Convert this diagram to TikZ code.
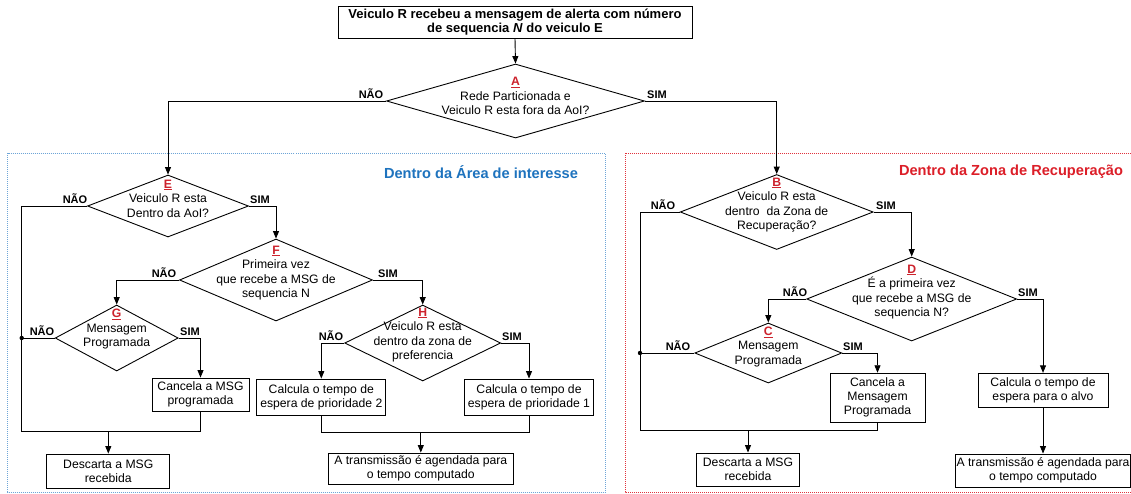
\documentclass[tikz,border=0pt]{standalone}
\usepackage{fontspec}
\setmainfont{Liberation Sans}
\usetikzlibrary{shapes.geometric,arrows.meta}
\definecolor{lblue}{RGB}{110,165,215}
\definecolor{tblue}{RGB}{30,115,190}
\definecolor{lred}{RGB}{225,50,60}
\definecolor{tred}{RGB}{220,30,40}
\definecolor{ltr}{RGB}{205,35,45}
\newcommand{\dletter}[1]{\textcolor{ltr}{\underline{\textbf{#1}}}}
\begin{document}
\begin{tikzpicture}[x=1pt,y=-1pt,line width=0.9pt,
  box/.style={draw,rectangle,inner sep=0pt,align=center,font=\fontsize{12.2}{14}\selectfont},
  dia/.style={draw,diamond,inner sep=0pt},
  dtext/.style={align=center,inner sep=0pt,font=\fontsize{12.2}{14.5}\selectfont},
  yn/.style={font=\bfseries\fontsize{11}{12}\selectfont,inner sep=1pt,anchor=south},
  arr/.style={-{Triangle[length=7.5pt,width=6pt]}},
  zone/.style={line width=0.8pt,dash pattern=on 1pt off 1pt},
  ttl/.style={font=\bfseries\fontsize{14.6}{16}\selectfont,inner sep=0pt}]
\useasboundingbox (0,0) rectangle (1131,493);
\fill[white] (0,0) rectangle (1131,493);
% zones
\draw[zone,lblue] (7.5,153) rectangle (605,492);
\draw[zone,lred] (625,153) rectangle (1140,492);
\node[ttl,text=tblue] (tB) at (481,172) {Dentro da Área de interesse};
\node[ttl,text=tred] (tR) at (1011,172) {Dentro da Zona de Recuperação};
% top box
\node[box,font=\bfseries\fontsize{13}{14.5}\selectfont,minimum width=354pt,minimum height=32pt] (top) at (515,22)
  {Veiculo R recebeu a mensagem de alerta com número\\de sequencia \textit{N} do veiculo E};
% diamonds
\node[dia,minimum width=258pt,minimum height=74pt] (A) at (515.5,101) {};
\node[dtext] (At) at (515.5,96) {\dletter{A}\\Rede Particionada e\\Veiculo R esta fora da AoI?};
\node[dia,minimum width=161pt,minimum height=62pt] (E) at (168,206) {};
\node[dtext] (Et) at (168,198.5) {\dletter{E}\\Veiculo R esta\\Dentro da AoI?};
\node[dia,minimum width=193pt,minimum height=82pt] (F) at (276,280) {};
\node[dtext] (Ft) at (276,273) {\dletter{F}\\Primeira vez\\que recebe a MSG de\\sequencia N};
\node[dia,minimum width=123pt,minimum height=66pt] (G) at (116.7,338) {};
\node[dtext] (Gt) at (116.7,329) {\dletter{G}\\Mensagem\\Programada};
\node[dia,minimum width=156pt,minimum height=76pt] (H) at (422.7,343) {};
\node[dtext] (Ht) at (422.7,335) {\dletter{H}\\Veiculo R esta\\dentro da zona de\\preferencia};
\node[dia,minimum width=193pt,minimum height=75pt] (B) at (776.7,212) {};
\node[dtext] (Bt) at (776.7,205) {\dletter{B}\\Veiculo R esta\\dentro\ \ da Zona de\\Recuperação?};
\node[dia,minimum width=210pt,minimum height=84pt] (D) at (911.7,299) {};
\node[dtext] (Dt) at (911.7,292) {\dletter{D}\\É a primeira vez\\que recebe a MSG de\\sequencia N?};
\node[dia,minimum width=147pt,minimum height=60pt] (C) at (768.3,353) {};
\node[dtext] (Ct) at (768.3,346.7) {\dletter{C}\\Mensagem\\Programada};
% boxes
\node[box,minimum width=97pt,minimum height=33pt] (cG) at (200.5,394.5) {Cancela a MSG\\programada};
\node[box,minimum width=123pt,minimum height=34pt] (dG) at (108.3,471) {Descarta a MSG\\recebida};
\node[box,minimum width=129pt,minimum height=36pt] (p2) at (321.3,397) {Calcula o tempo de\\espera de prioridade 2};
\node[box,minimum width=129pt,minimum height=36pt] (p1) at (529,397) {Calcula o tempo de\\espera de prioridade 1};
\node[box,minimum width=185pt,minimum height=31pt] (trG) at (420.8,468.5) {A transmissão é agendada para\\o tempo computado};
\node[box,minimum width=95pt,minimum height=49pt] (cC) at (877.5,397.7) {Cancela a\\Mensagem\\Programada};
\node[box,minimum width=103pt,minimum height=33pt] (dC) at (748,469.5) {Descarta a MSG\\recebida};
\node[box,minimum width=130pt,minimum height=34pt] (alvo) at (1043,390.3) {Calcula o tempo de\\espera para o alvo};
\node[box,minimum width=175pt,minimum height=33pt] (trC) at (1043,470.5) {A transmissão é agendada para\\o tempo computado};
% junction coordinates
\coordinate (jl) at (21.7,431.7);
\coordinate (dotG) at (21.7,338);
\coordinate (jH) at (420.8,432.7);
\coordinate (jr) at (640,430);
\coordinate (dotC) at (640,353);
% yes/no labels
\node[yn] (An) at (371,100) {NÃO};
\node[yn] (As) at (657,100) {SIM};
\node[yn] (En) at (75,205) {NÃO};
\node[yn] (Es) at (260,205) {SIM};
\node[yn] (Fn) at (164,279) {NÃO};
\node[yn] (Fs) at (388,279) {SIM};
\node[yn] (Gn) at (42,337) {NÃO};
\node[yn] (Gs) at (190,337) {SIM};
\node[yn] (Hn) at (331,342) {NÃO};
\node[yn] (Hs) at (512,342) {SIM};
\node[yn] (Bn) at (663,211) {NÃO};
\node[yn] (Bs) at (886,211) {SIM};
\node[yn] (Dn) at (795,298) {NÃO};
\node[yn] (Ds) at (1028,298) {SIM};
\node[yn] (Cn) at (678,352) {NÃO};
\node[yn] (Cs) at (853,352) {SIM};
% connectors
\draw[arr] (top.south) -- (A.north);
\draw[arr] (A.west) -| (E.north);
\draw[arr] (A.east) -| (B.north);
\draw[arr] (E.east) -| (F.north);
\draw (E.west) -| (jl) -- (cG.south |- jl) -- (cG.south);
\draw[arr] (dG.north |- jl) -- (dG.north);
\draw[arr] (F.west) -| (G.north);
\draw[arr] (F.east) -| (H.north);
\draw (G.west) -- (dotG);
\fill (dotG) circle (2.2pt);
\draw[arr] (G.east) -| (cG.north);
\draw[arr] (H.west) -| (p2.north);
\draw[arr] (H.east) -| (p1.north);
\draw (p2.south) |- (jH) -| (p1.south);
\draw[arr] (jH) -- (trG.north);
\draw (B.west) -| (jr) -- (cC.south |- jr) -- (cC.south);
\draw[arr] (dC.north |- jr) -- (dC.north);
\draw[arr] (B.east) -| (D.north);
\draw[arr] (D.west) -| (C.north);
\draw[arr] (D.east) -| (alvo.north);
\draw (C.west) -- (dotC);
\fill (dotC) circle (2.2pt);
\draw[arr] (C.east) -| (cC.north);
\draw[arr] (alvo.south) -- (trC.north);
\end{tikzpicture}
\end{document}
